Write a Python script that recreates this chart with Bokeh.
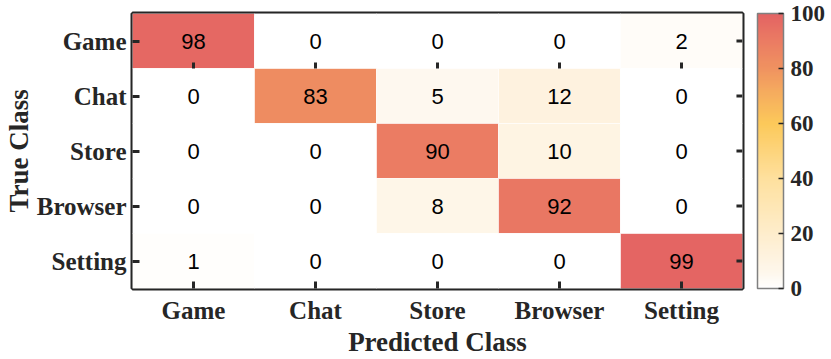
from bokeh.plotting import figure
from bokeh.models import ColumnDataSource, LinearColorMapper, ColorBar, FixedTicker
from bokeh.transform import transform
from bokeh.core.properties import value
from bokeh.embed import file_html
from bokeh.resources import INLINE

# ---- data ----
classes = ["Game", "Chat", "Store", "Browser", "Setting"]
row_game = [98, 0, 0, 0, 2]
row_chat = [0, 83, 5, 12, 0]
row_store = [0, 0, 90, 10, 0]
row_browser = [0, 0, 8, 92, 0]
row_setting = [1, 0, 0, 0, 99]
rows = [row_game, row_chat, row_store, row_browser, row_setting]
cbar_ticks = [0, 20, 40, 60, 80, 100]

# ---- colormap (white -> yellow -> red) ----
stops = [(0.0, (255, 255, 255)), (0.05, (254, 248, 238)), (0.12, (254, 242, 222)),
         (0.2, (254, 237, 204)), (0.4, (254, 224, 158)),
         (0.6, (252, 201, 90)), (0.7, (246, 176, 94)), (0.8, (240, 147, 96)),
         (0.9, (235, 124, 99)), (1.0, (227, 99, 99))]

def interp(t):
    for (t0, c0), (t1, c1) in zip(stops[:-1], stops[1:]):
        if t <= t1:
            f = (t - t0) / (t1 - t0) if t1 > t0 else 0
            return "#%02x%02x%02x" % tuple(int(round(a + (b - a) * f)) for a, b in zip(c0, c1))
    return "#%02x%02x%02x" % stops[-1][1]

palette = [interp(i / 255) for i in range(256)]
mapper = LinearColorMapper(palette=palette, low=0, high=100)

xs, ys, vals, labels = [], [], [], []
for tc, row in zip(classes, rows):
    for pc, v in zip(classes, row):
        xs.append(pc)
        ys.append(tc)
        vals.append(v)
        labels.append(str(v))
src = ColumnDataSource(dict(x=xs, y=ys, v=vals, t=labels))

DARK = "#262626"
SERIF = "Liberation Serif"
FH = 275

p = figure(x_range=classes, y_range=list(reversed(classes)),
           frame_width=610, frame_height=FH,
           min_border_left=128, min_border_right=85, min_border_top=13, min_border_bottom=70,
           output_backend="svg", toolbar_location=None, tools="")

p.rect(x="x", y="y", width=1, height=1, source=src,
       fill_color=transform("v", mapper), line_color="white", line_alpha=0.6, line_width=1)
p.text(x="x", y="y", text="t", source=src, text_align="center", text_baseline="middle",
       text_font=value("Liberation Sans"), text_font_size="22px", text_color="black")

# inward ticks on top and right edges (positions from the class factors)
TK = 0.11
top_src = ColumnDataSource(dict(x=classes, y0=[(classes[0], -0.5)] * 5,
                                y1=[(classes[0], -0.5 + TK)] * 5))
p.segment(x0="x", x1="x", y0="y0", y1="y1", source=top_src,
          line_color=DARK, line_width=3)
right_src = ColumnDataSource(dict(y=classes, x0=[(classes[-1], 0.5)] * 5,
                                  x1=[(classes[-1], 0.5 - TK * 0.45)] * 5))
p.segment(x0="x0", x1="x1", y0="y", y1="y", source=right_src,
          line_color=DARK, line_width=3)

p.grid.visible = False
p.outline_line_color = DARK
p.outline_line_width = 4
p.background_fill_color = "white"

for ax in (p.xaxis[0], p.yaxis[0]):
    ax.axis_line_color = None
    ax.major_tick_in = 7
    ax.major_tick_out = 0
    ax.minor_tick_line_color = None
    ax.major_tick_line_color = DARK
    ax.major_tick_line_width = 3
    ax.major_label_text_font = SERIF
    ax.major_label_text_font_style = "bold"
    ax.major_label_text_font_size = "25px"
    ax.major_label_text_color = DARK
    ax.axis_label_text_font = SERIF
    ax.axis_label_text_font_style = "bold"
    ax.axis_label_text_font_size = "27px"
    ax.axis_label_text_color = DARK

p.xaxis.axis_label = "Predicted Class"
p.yaxis.axis_label = "True Class"
p.xaxis.major_label_standoff = 8
p.yaxis.major_label_standoff = 6
p.xaxis.axis_label_standoff = 0
p.yaxis.axis_label_standoff = 0

cb = ColorBar(color_mapper=mapper, ticker=FixedTicker(ticks=cbar_ticks),
              width=26, height=FH, padding=0, margin=0, location=(15, 0),
              bar_line_color="#808080", bar_line_width=1.5,
              major_tick_in=5, major_tick_out=0, major_tick_line_color=DARK,
              major_tick_line_width=1.5, minor_tick_line_color=None,
              label_standoff=7,
              major_label_text_font=SERIF, major_label_text_font_style="bold",
              major_label_text_font_size="23px", major_label_text_color=DARK,
              background_fill_alpha=0, border_line_color=None)
p.add_layout(cb, "right")

open("out.html", "w").write(file_html(p, INLINE))
